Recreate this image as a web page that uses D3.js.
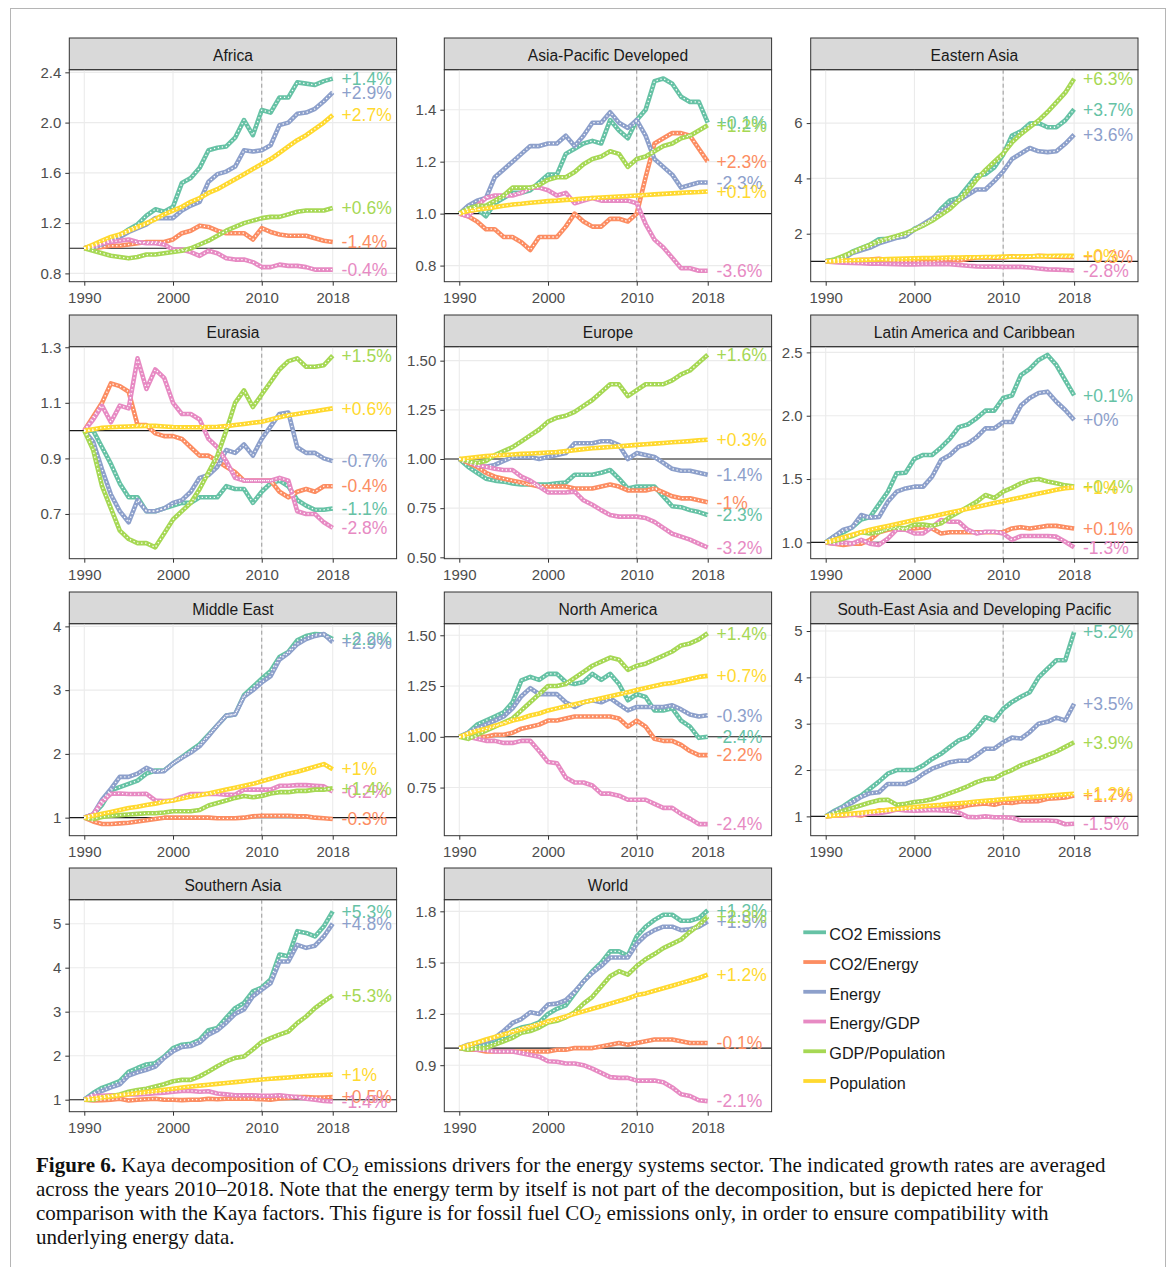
<!DOCTYPE html>
<html><head><meta charset="utf-8">
<script src="https://cdn.jsdelivr.net/npm/d3@7"></script>
<style>body{margin:0;background:#fff}</style>
</head><body><svg id="c" width="1171" height="1267"></svg>
<script>
// ---------------- DATA ----------------
const years = [1990,1991,1992,1993,1994,1995,1996,1997,1998,1999,2000,2001,2002,2003,2004,2005,2006,2007,2008,2009,2010,2011,2012,2013,2014,2015,2016,2017,2018];
const seriesNames = ["CO2 Emissions","CO2/Energy","Energy","Energy/GDP","GDP/Population","Population"];
const seriesColors = ["#66c2a5","#fc8d62","#8da0cb","#e78ac3","#a6d854","#ffd92f"];
const regionNames = ["Africa","Asia-Pacific Developed","Eastern Asia","Eurasia","Europe","Latin America and Caribbean","Middle East","North America","South-East Asia and Developing Pacific","Southern Asia","World"];
const xTicks = [1990,2000,2010,2018];

// series order in each region: CO2 Emissions, CO2/Energy, Energy, Energy/GDP, GDP/Population, Population
const africa = [
 [1.00,1.02,1.04,1.07,1.10,1.15,1.19,1.26,1.31,1.29,1.33,1.52,1.56,1.64,1.78,1.80,1.81,1.88,2.02,1.90,2.10,2.08,2.20,2.20,2.32,2.31,2.30,2.33,2.35],
 [1.00,1.00,1.01,1.02,1.02,1.03,1.04,1.05,1.05,1.05,1.07,1.12,1.14,1.18,1.17,1.14,1.12,1.12,1.12,1.07,1.16,1.13,1.11,1.10,1.10,1.10,1.08,1.06,1.05],
 [1.00,1.01,1.03,1.06,1.09,1.13,1.16,1.19,1.24,1.24,1.24,1.30,1.34,1.37,1.53,1.59,1.61,1.65,1.78,1.77,1.78,1.82,1.98,2.00,2.07,2.08,2.11,2.17,2.24],
 [1.00,1.02,1.04,1.05,1.06,1.07,1.05,1.04,1.04,1.03,0.99,0.99,0.97,0.94,0.98,0.96,0.92,0.91,0.91,0.89,0.85,0.85,0.87,0.86,0.86,0.85,0.83,0.83,0.83],
 [1.00,0.98,0.96,0.94,0.93,0.92,0.93,0.95,0.95,0.96,0.97,0.98,1.00,1.03,1.06,1.10,1.14,1.17,1.20,1.22,1.24,1.25,1.25,1.27,1.29,1.30,1.30,1.30,1.32],
 [1.00,1.03,1.06,1.09,1.11,1.14,1.17,1.20,1.23,1.27,1.30,1.33,1.37,1.40,1.44,1.47,1.51,1.55,1.59,1.63,1.67,1.71,1.76,1.81,1.86,1.90,1.95,2.00,2.06]
];
const asiaPacific = [
 [1.00,1.02,1.02,0.99,1.04,1.06,1.08,1.08,1.09,1.12,1.15,1.15,1.23,1.25,1.27,1.28,1.27,1.36,1.32,1.29,1.36,1.40,1.51,1.52,1.50,1.45,1.43,1.43,1.35],
 [1.00,0.99,0.97,0.94,0.94,0.91,0.91,0.89,0.86,0.91,0.91,0.91,0.95,1.00,0.97,0.95,0.95,0.98,0.98,0.97,1.00,1.14,1.27,1.29,1.31,1.31,1.30,1.25,1.20],
 [1.00,1.03,1.05,1.06,1.14,1.17,1.20,1.23,1.26,1.26,1.27,1.27,1.30,1.26,1.30,1.35,1.35,1.39,1.35,1.33,1.36,1.30,1.21,1.18,1.15,1.10,1.11,1.12,1.12],
 [1.00,0.99,1.03,1.06,1.07,1.07,1.07,1.08,1.10,1.10,1.09,1.07,1.08,1.04,1.05,1.06,1.05,1.05,1.05,1.05,1.04,0.96,0.90,0.87,0.83,0.79,0.79,0.78,0.78],
 [1.00,1.02,1.03,1.03,1.05,1.07,1.10,1.10,1.10,1.11,1.13,1.14,1.14,1.16,1.19,1.21,1.22,1.24,1.23,1.18,1.21,1.22,1.24,1.26,1.27,1.29,1.30,1.32,1.34],
 [1.00,1.01,1.015,1.02,1.025,1.03,1.035,1.038,1.042,1.045,1.048,1.05,1.053,1.055,1.058,1.06,1.062,1.064,1.066,1.068,1.07,1.072,1.074,1.076,1.078,1.08,1.082,1.083,1.085]
];
const easternAsia = [
 [1.00,1.06,1.12,1.35,1.48,1.60,1.80,1.82,1.86,1.92,2.18,2.30,2.50,2.90,3.20,3.30,3.70,4.10,4.15,4.40,4.86,5.55,5.70,5.98,6.00,5.85,5.85,6.10,6.50],
 [1.00,1.02,1.02,1.04,1.06,1.07,1.09,1.04,1.01,1.00,1.01,0.98,0.98,1.04,1.07,1.03,1.09,1.14,1.15,1.13,1.14,1.18,1.16,1.17,1.20,1.18,1.17,1.16,1.16],
 [1.00,1.04,1.10,1.30,1.40,1.50,1.65,1.75,1.85,1.92,2.15,2.35,2.55,2.80,3.00,3.20,3.40,3.60,3.60,3.90,4.25,4.70,4.90,5.10,4.98,4.95,4.98,5.25,5.58],
 [1.00,0.97,0.95,0.94,0.93,0.92,0.92,0.91,0.90,0.89,0.89,0.90,0.90,0.91,0.90,0.87,0.84,0.82,0.81,0.81,0.80,0.80,0.80,0.78,0.74,0.71,0.70,0.69,0.67],
 [1.00,1.07,1.20,1.33,1.47,1.60,1.72,1.83,1.92,2.02,2.15,2.30,2.47,2.68,2.90,3.20,3.55,3.95,4.30,4.60,4.90,5.30,5.60,5.85,6.10,6.40,6.75,7.10,7.60],
 [1.00,1.01,1.03,1.04,1.05,1.06,1.07,1.08,1.09,1.10,1.11,1.12,1.12,1.13,1.14,1.14,1.15,1.15,1.16,1.16,1.17,1.17,1.18,1.18,1.19,1.19,1.20,1.20,1.20]
];
const eurasia = [
 [1.00,1.00,0.94,0.88,0.81,0.76,0.76,0.71,0.71,0.72,0.73,0.74,0.74,0.76,0.76,0.76,0.80,0.79,0.79,0.74,0.78,0.81,0.82,0.80,0.75,0.73,0.715,0.715,0.72],
 [1.00,1.05,1.10,1.17,1.16,1.14,1.02,1.02,0.99,0.98,0.98,0.97,0.94,0.91,0.91,0.89,0.87,0.85,0.82,0.82,0.82,0.82,0.78,0.76,0.78,0.79,0.78,0.80,0.80],
 [1.00,0.96,0.86,0.77,0.71,0.67,0.75,0.71,0.71,0.72,0.74,0.75,0.78,0.83,0.84,0.87,0.93,0.92,0.95,0.91,0.97,1.015,1.06,1.065,0.94,0.92,0.92,0.90,0.89],
 [1.00,1.04,1.09,1.03,1.09,1.08,1.26,1.15,1.22,1.19,1.10,1.06,1.06,1.04,0.97,0.94,0.89,0.83,0.82,0.82,0.82,0.82,0.83,0.82,0.71,0.70,0.70,0.67,0.65],
 [1.00,0.93,0.80,0.72,0.64,0.61,0.595,0.595,0.58,0.63,0.68,0.71,0.74,0.79,0.85,0.91,1.00,1.10,1.145,1.085,1.13,1.175,1.22,1.25,1.26,1.23,1.23,1.235,1.27],
 [1.00,1.005,1.01,1.012,1.014,1.015,1.016,1.017,1.017,1.015,1.013,1.012,1.012,1.012,1.013,1.014,1.016,1.02,1.024,1.028,1.032,1.04,1.048,1.055,1.06,1.065,1.07,1.075,1.08]
];
const europe = [
 [1.00,0.96,0.93,0.90,0.89,0.885,0.876,0.87,0.87,0.87,0.87,0.877,0.88,0.92,0.92,0.92,0.93,0.944,0.90,0.85,0.86,0.86,0.86,0.81,0.76,0.755,0.74,0.73,0.715],
 [1.00,0.98,0.96,0.93,0.91,0.90,0.89,0.88,0.87,0.86,0.86,0.86,0.86,0.85,0.85,0.85,0.86,0.87,0.86,0.84,0.84,0.84,0.85,0.83,0.81,0.80,0.80,0.79,0.78],
 [1.00,0.99,0.97,0.96,0.97,0.99,1.01,1.01,1.01,1.00,1.01,1.02,1.03,1.08,1.08,1.08,1.09,1.09,1.07,1.00,1.03,1.02,1.01,0.98,0.95,0.94,0.94,0.93,0.92],
 [1.00,0.99,0.97,0.96,0.95,0.944,0.944,0.91,0.89,0.86,0.83,0.83,0.83,0.834,0.79,0.767,0.74,0.715,0.707,0.707,0.707,0.70,0.68,0.65,0.62,0.605,0.59,0.57,0.55],
 [1.00,0.99,0.98,0.99,1.02,1.04,1.06,1.09,1.12,1.15,1.19,1.21,1.22,1.24,1.27,1.30,1.34,1.38,1.38,1.32,1.35,1.38,1.38,1.38,1.40,1.43,1.45,1.49,1.53],
 [1.00,1.005,1.01,1.015,1.018,1.02,1.023,1.026,1.028,1.03,1.033,1.035,1.04,1.045,1.05,1.055,1.058,1.061,1.064,1.068,1.072,1.075,1.078,1.081,1.085,1.088,1.091,1.095,1.098]
];
const latinAmerica = [
 [1.00,1.05,1.08,1.12,1.18,1.20,1.30,1.40,1.545,1.55,1.66,1.69,1.69,1.75,1.82,1.91,1.93,1.98,2.04,2.04,2.14,2.16,2.32,2.37,2.44,2.48,2.40,2.28,2.16],
 [1.00,0.99,0.98,0.99,0.99,1.02,1.08,1.10,1.11,1.11,1.11,1.12,1.11,1.07,1.08,1.08,1.08,1.08,1.08,1.08,1.08,1.11,1.12,1.11,1.12,1.13,1.13,1.12,1.11],
 [1.00,1.05,1.10,1.12,1.216,1.195,1.20,1.32,1.40,1.426,1.44,1.44,1.52,1.65,1.69,1.755,1.78,1.83,1.90,1.90,1.95,1.95,2.08,2.14,2.18,2.19,2.11,2.045,1.966],
 [1.00,0.99,1.00,0.99,1.02,0.99,0.98,1.03,1.10,1.10,1.07,1.07,1.12,1.176,1.163,1.163,1.10,1.07,1.084,1.084,1.07,1.02,1.05,1.05,1.05,1.05,1.045,1.005,0.96],
 [1.00,1.01,1.03,1.05,1.08,1.07,1.08,1.11,1.12,1.11,1.14,1.14,1.13,1.15,1.20,1.24,1.28,1.32,1.374,1.35,1.40,1.43,1.466,1.49,1.50,1.48,1.466,1.45,1.44],
 [1.00,1.02,1.04,1.06,1.08,1.10,1.115,1.13,1.145,1.16,1.176,1.19,1.205,1.22,1.235,1.25,1.265,1.28,1.295,1.31,1.325,1.34,1.355,1.37,1.385,1.40,1.415,1.427,1.434]
];
const middleEast = [
 [1.00,1.05,1.20,1.43,1.48,1.53,1.58,1.69,1.74,1.74,1.85,1.95,2.05,2.15,2.30,2.45,2.60,2.62,2.92,3.05,3.18,3.30,3.52,3.60,3.78,3.85,3.88,3.87,3.80],
 [1.00,0.94,0.90,0.90,0.91,0.92,0.94,0.96,0.98,1.00,1.00,1.00,1.00,1.00,1.00,0.99,0.99,0.99,1.00,1.02,1.03,1.03,1.03,1.03,1.02,1.02,1.00,0.99,0.98],
 [1.00,1.05,1.28,1.45,1.64,1.64,1.69,1.78,1.72,1.73,1.85,1.94,2.02,2.12,2.28,2.45,2.60,2.62,2.90,3.00,3.12,3.22,3.48,3.58,3.72,3.80,3.85,3.88,3.75],
 [1.00,1.05,1.25,1.375,1.38,1.37,1.37,1.375,1.27,1.26,1.27,1.33,1.37,1.37,1.37,1.37,1.36,1.36,1.44,1.44,1.44,1.44,1.50,1.50,1.51,1.51,1.50,1.49,1.41],
 [1.00,0.98,1.01,1.03,1.04,1.05,1.06,1.07,1.07,1.08,1.10,1.10,1.10,1.12,1.19,1.23,1.27,1.31,1.34,1.32,1.34,1.38,1.40,1.40,1.42,1.42,1.44,1.44,1.46],
 [1.00,1.03,1.06,1.09,1.12,1.15,1.17,1.20,1.22,1.25,1.27,1.30,1.33,1.35,1.38,1.41,1.44,1.47,1.50,1.53,1.57,1.61,1.65,1.69,1.72,1.76,1.80,1.84,1.76]
];
const northAmerica = [
 [1.00,1.02,1.06,1.08,1.10,1.12,1.17,1.278,1.295,1.28,1.31,1.31,1.27,1.26,1.27,1.31,1.28,1.31,1.26,1.18,1.21,1.196,1.13,1.13,1.14,1.08,1.05,0.995,1.00],
 [1.00,1.00,1.00,1.00,1.01,1.01,1.02,1.04,1.05,1.06,1.08,1.08,1.09,1.10,1.10,1.10,1.10,1.10,1.09,1.05,1.08,1.05,0.99,0.98,0.98,0.96,0.93,0.91,0.91],
 [1.00,1.02,1.04,1.06,1.08,1.10,1.14,1.20,1.24,1.21,1.21,1.21,1.17,1.147,1.17,1.18,1.17,1.19,1.16,1.13,1.147,1.147,1.147,1.147,1.155,1.135,1.11,1.10,1.106],
 [1.00,1.00,0.99,0.98,0.98,0.97,0.97,0.98,0.98,0.93,0.876,0.87,0.80,0.775,0.775,0.76,0.72,0.72,0.71,0.69,0.69,0.69,0.67,0.65,0.65,0.62,0.597,0.57,0.57],
 [1.00,0.99,1.01,1.03,1.05,1.07,1.09,1.13,1.17,1.21,1.25,1.25,1.26,1.29,1.32,1.35,1.37,1.39,1.38,1.33,1.35,1.36,1.38,1.40,1.42,1.45,1.46,1.48,1.51],
 [1.00,1.015,1.03,1.04,1.055,1.065,1.08,1.09,1.105,1.115,1.13,1.14,1.15,1.16,1.17,1.18,1.19,1.20,1.21,1.22,1.23,1.24,1.25,1.26,1.265,1.275,1.285,1.295,1.30]
];
const southEastAsia = [
 [1.00,1.12,1.22,1.35,1.45,1.60,1.75,1.92,2.00,2.00,2.00,2.10,2.24,2.35,2.50,2.64,2.71,2.90,3.14,3.07,3.32,3.47,3.58,3.68,4.00,4.19,4.37,4.37,4.98],
 [1.00,1.02,1.02,1.04,1.02,1.07,1.13,1.13,1.16,1.18,1.14,1.15,1.15,1.15,1.18,1.19,1.24,1.26,1.28,1.25,1.30,1.29,1.32,1.32,1.33,1.38,1.39,1.41,1.45],
 [1.00,1.10,1.20,1.30,1.42,1.50,1.52,1.70,1.70,1.70,1.78,1.92,2.03,2.10,2.17,2.20,2.20,2.32,2.46,2.46,2.60,2.70,2.68,2.82,3.00,3.04,3.13,3.07,3.43],
 [1.00,1.02,1.03,1.03,1.05,1.06,1.07,1.10,1.15,1.13,1.12,1.13,1.14,1.13,1.12,1.08,0.99,0.98,1.00,0.98,0.98,0.97,0.91,0.91,0.91,0.91,0.90,0.83,0.84],
 [1.00,1.06,1.12,1.18,1.24,1.30,1.35,1.36,1.25,1.27,1.31,1.33,1.37,1.43,1.50,1.57,1.65,1.74,1.80,1.82,1.92,2.00,2.10,2.17,2.24,2.32,2.40,2.50,2.60],
 [1.00,1.02,1.04,1.06,1.08,1.10,1.12,1.14,1.16,1.18,1.20,1.22,1.235,1.25,1.27,1.285,1.30,1.32,1.335,1.35,1.37,1.385,1.40,1.415,1.43,1.445,1.46,1.475,1.49]
];
const southernAsia = [
 [1.00,1.15,1.27,1.34,1.42,1.63,1.72,1.80,1.83,1.98,2.17,2.25,2.27,2.36,2.58,2.63,2.86,3.08,3.20,3.46,3.55,3.73,4.30,4.26,4.83,4.79,4.71,4.94,5.28],
 [1.00,0.98,0.99,1.00,1.02,0.98,1.00,1.01,1.02,1.00,1.00,0.99,1.00,1.00,1.02,1.01,1.02,1.02,1.02,1.02,1.01,1.00,1.03,1.04,1.06,1.06,1.05,1.05,1.06],
 [1.00,1.12,1.20,1.28,1.35,1.55,1.62,1.68,1.75,1.95,2.10,2.20,2.22,2.30,2.48,2.58,2.75,2.95,3.05,3.35,3.50,3.65,4.14,4.14,4.52,4.45,4.50,4.71,5.00],
 [1.00,1.08,1.09,1.10,1.10,1.12,1.12,1.13,1.15,1.16,1.18,1.20,1.20,1.18,1.19,1.14,1.12,1.10,1.10,1.10,1.09,1.09,1.10,1.08,1.06,1.02,1.00,0.97,0.96],
 [1.00,1.00,1.05,1.08,1.12,1.18,1.22,1.25,1.30,1.35,1.42,1.45,1.45,1.53,1.64,1.76,1.87,1.95,1.98,2.14,2.31,2.40,2.48,2.55,2.74,2.89,3.08,3.23,3.37],
 [1.00,1.025,1.05,1.075,1.10,1.125,1.15,1.175,1.20,1.225,1.25,1.275,1.30,1.32,1.34,1.36,1.38,1.40,1.42,1.44,1.46,1.475,1.49,1.505,1.52,1.535,1.55,1.56,1.57]
];
const world = [
 [1.00,1.01,1.01,1.02,1.03,1.06,1.10,1.12,1.13,1.15,1.20,1.23,1.25,1.32,1.39,1.45,1.50,1.566,1.566,1.54,1.654,1.71,1.75,1.78,1.78,1.745,1.745,1.76,1.806],
 [1.00,0.99,0.99,0.98,0.98,0.98,0.98,0.98,0.98,0.98,0.98,0.99,0.99,1.00,1.00,1.00,1.01,1.02,1.03,1.02,1.03,1.04,1.05,1.05,1.05,1.04,1.03,1.03,1.03],
 [1.00,1.02,1.03,1.04,1.06,1.10,1.147,1.17,1.21,1.20,1.255,1.26,1.28,1.33,1.39,1.44,1.48,1.53,1.53,1.53,1.61,1.66,1.69,1.71,1.71,1.69,1.695,1.71,1.74],
 [1.00,1.00,0.99,0.99,0.98,0.98,0.98,0.97,0.96,0.95,0.923,0.92,0.91,0.91,0.90,0.88,0.855,0.83,0.826,0.826,0.81,0.81,0.81,0.80,0.77,0.73,0.72,0.695,0.69],
 [1.00,0.99,1.00,1.00,1.02,1.04,1.06,1.09,1.10,1.12,1.15,1.16,1.18,1.21,1.26,1.30,1.36,1.42,1.45,1.43,1.48,1.52,1.55,1.585,1.61,1.635,1.68,1.72,1.77],
 [1.00,1.017,1.033,1.05,1.065,1.08,1.095,1.11,1.125,1.14,1.157,1.17,1.185,1.20,1.215,1.23,1.245,1.26,1.275,1.29,1.31,1.32,1.335,1.35,1.365,1.38,1.395,1.41,1.43]
];

// growth-rate labels (2010-2018), series order as above
const africaLabels        = ["+1.4%","-1.4%","+2.9%","-0.4%","+0.6%","+2.7%"];
const asiaPacificLabels   = ["+0.1%","+2.3%","-2.3%","-3.6%","+1.2%","+0.1%"];
const easternAsiaLabels   = ["+3.7%","+0.3%","+3.6%","-2.8%","+6.3%","+0%"];
const eurasiaLabels       = ["-1.1%","-0.4%","-0.7%","-2.8%","+1.5%","+0.6%"];
const europeLabels        = ["-2.3%","-1%","-1.4%","-3.2%","+1.6%","+0.3%"];
const latinAmericaLabels  = ["+0.1%","+0.1%","+0%","-1.3%","+0.4%","+1%"];
const middleEastLabels    = ["+2.2%","-0.3%","+2.9%","-0.2%","+1.4%","+1%"];
const northAmericaLabels  = ["-2.4%","-2.2%","-0.3%","-2.4%","+1.4%","+0.7%"];
const southEastAsiaLabels = ["+5.2%","+1.7%","+3.5%","-1.5%","+3.9%","+1.2%"];
const southernAsiaLabels  = ["+5.3%","+0.5%","+4.8%","-1.4%","+5.3%","+1%"];
const worldLabels         = ["+1.3%","-0.1%","+1.5%","-2.1%","+2.3%","+1.2%"];

// y tick labels per panel
const africaTicks        = ["0.8","1.2","1.6","2.0","2.4"];
const asiaPacificTicks   = ["0.8","1.0","1.2","1.4"];
const easternAsiaTicks   = ["2","4","6"];
const eurasiaTicks       = ["0.7","0.9","1.1","1.3"];
const europeTicks        = ["0.50","0.75","1.00","1.25","1.50"];
const latinAmericaTicks  = ["1.0","1.5","2.0","2.5"];
const middleEastTicks    = ["1","2","3","4"];
const northAmericaTicks  = ["0.75","1.00","1.25","1.50"];
const southEastAsiaTicks = ["1","2","3","4","5"];
const southernAsiaTicks  = ["1","2","3","4","5"];
const worldTicks         = ["0.9","1.2","1.5","1.8"];

// y axis extents
const yExtents = [[0.734,2.421],[0.738,1.554],[0.265,7.93],[0.539,1.302],[0.493,1.571],[0.871,2.545],[0.717,4.042],[0.513,1.557],[0.583,5.158],[0.727,5.545],[0.628,1.868]];

const regionData   = [africa,asiaPacific,easternAsia,eurasia,europe,latinAmerica,middleEast,northAmerica,southEastAsia,southernAsia,world];
const regionLabels = [africaLabels,asiaPacificLabels,easternAsiaLabels,eurasiaLabels,europeLabels,latinAmericaLabels,middleEastLabels,northAmericaLabels,southEastAsiaLabels,southernAsiaLabels,worldLabels];
const regionTicks  = [africaTicks,asiaPacificTicks,easternAsiaTicks,eurasiaTicks,europeTicks,latinAmericaTicks,middleEastTicks,northAmericaTicks,southEastAsiaTicks,southernAsiaTicks,worldTicks];

// ---------------- DRAW ----------------
const svg = d3.select("#c");
const FONT = "'Liberation Sans', Arial, sans-serif";
svg.append("rect").attr("x",10.5).attr("y",8.5).attr("width",1155).attr("height",1300)
   .attr("fill","#fff").attr("stroke","#b5b5b5").attr("stroke-width",1);

const colLeft = [69.3, 444.3, 810.7], panelW = 327.3;
const rowTop = [69.7, 346.7, 623.7, 899.7], panelH = 212, stripH = 31.7;

regionNames.forEach((name, i) => {
  const col = i % 3, row = Math.floor(i / 3);
  const L = colLeft[col], T = rowTop[row];
  const x = d3.scaleLinear().domain([1988.31, 2025.2]).range([L, L + panelW]);
  const y = d3.scaleLinear().domain(yExtents[i]).range([T + panelH, T]);
  const g = svg.append("g");
  const tickVals = regionTicks[i].map(Number);

  // strip
  g.append("rect").attr("x", L).attr("y", T - stripH).attr("width", panelW).attr("height", stripH)
    .attr("fill", "#d9d9d9").attr("stroke", "#333").attr("stroke-width", 1);
  g.append("text").attr("x", L + panelW / 2).attr("y", T - stripH / 2 + 1.5).attr("dy", "0.36em")
    .attr("text-anchor", "middle").attr("font-family", FONT).attr("font-size", 15.6)
    .attr("fill", "#1a1a1a").text(name);

  // grid
  g.selectAll(".gy").data(tickVals).join("line")
    .attr("x1", L).attr("x2", L + panelW).attr("y1", d => y(d)).attr("y2", d => y(d))
    .attr("stroke", "#ebebeb").attr("stroke-width", 1.1);
  g.selectAll(".gx").data(xTicks).join("line")
    .attr("x1", d => x(d)).attr("x2", d => x(d)).attr("y1", T).attr("y2", T + panelH)
    .attr("stroke", "#ebebeb").attr("stroke-width", 1.1);

  // reference lines
  g.append("line").attr("x1", L).attr("x2", L + panelW).attr("y1", y(1)).attr("y2", y(1))
    .attr("stroke", "#1a1a1a").attr("stroke-width", 1.1);
  g.append("line").attr("x1", x(2010)).attr("x2", x(2010)).attr("y1", T).attr("y2", T + panelH)
    .attr("stroke", "#999").attr("stroke-width", 1).attr("stroke-dasharray", "4,3");

  // series
  const line = d3.line().x((d, j) => x(years[j])).y(d => y(d));
  const data = regionData[i];
  g.selectAll(".s").data(data).join("path")
    .attr("d", line).attr("fill", "none").attr("stroke", (d, k) => seriesColors[k])
    .attr("stroke-width", 4.6).attr("stroke-linejoin", "round");
  g.selectAll(".w").data(data).join("path")
    .attr("d", line).attr("fill", "none").attr("stroke", "#fff")
    .attr("stroke-width", 1.3).attr("stroke-dasharray", "1.3,2.7").attr("stroke-linejoin", "round");

  // labels
  g.selectAll(".lab").data(data).join("text")
    .attr("x", x(2019)).attr("y", d => y(d[d.length - 1])).attr("dy", "0.36em")
    .attr("font-family", FONT).attr("font-size", 17.5)
    .attr("fill", (d, k) => seriesColors[k]).text((d, k) => regionLabels[i][k]);

  // panel border
  g.append("rect").attr("x", L).attr("y", T).attr("width", panelW).attr("height", panelH)
    .attr("fill", "none").attr("stroke", "#333").attr("stroke-width", 1);

  // axes
  const ax = g.append("g").attr("transform", `translate(0,${T + panelH})`)
    .call(d3.axisBottom(x).tickValues(xTicks).tickFormat(d3.format("d")).tickSize(4).tickPadding(7));
  const ay = g.append("g").attr("transform", `translate(${L},0)`)
    .call(d3.axisLeft(y).tickValues(tickVals).tickFormat((d, j) => regionTicks[i][j]).tickSize(4).tickPadding(4));
  [ax, ay].forEach(a => {
    a.select(".domain").remove();
    a.selectAll("line").attr("stroke", "#333");
    a.selectAll("text").attr("font-family", FONT).attr("font-size", 15).attr("fill", "#4d4d4d");
  });
});

// legend
const lg = svg.append("g");
seriesNames.forEach((s, k) => {
  const cy = 932.3 + k * 29.74;
  lg.append("line").attr("x1", 803.3).attr("x2", 826).attr("y1", cy).attr("y2", cy)
    .attr("stroke", seriesColors[k]).attr("stroke-width", 3.8);
  lg.append("text").attr("x", 829.3).attr("y", cy + 2).attr("dy", "0.36em")
    .attr("font-family", FONT).attr("font-size", 16.2).attr("fill", "#1a1a1a").text(s);
});

// caption
const cap = svg.append("g").attr("font-family", "'Liberation Serif', 'Times New Roman', serif")
  .attr("font-size", 21).attr("fill", "#111");
const capLines = [
  [["b","Figure 6."],["t"," Kaya decomposition of CO"],["s","2"],["t"," emissions drivers for the energy systems sector. The indicated growth rates are averaged"]],
  [["t","across the years 2010–2018. Note that the energy term by itself is not part of the decomposition, but is depicted here for"]],
  [["t","comparison with the Kaya factors. This figure is for fossil fuel CO"],["s","2"],["t"," emissions only, in order to ensure compatibility with"]],
  [["t","underlying energy data."]]
];
capLines.forEach((parts, li) => {
  const t = cap.append("text").attr("x", 36).attr("y", 1172 + li * 24);
  parts.forEach(([kind, str], j) => {
    const sp = t.append("tspan").text(str);
    if (kind === "b") sp.attr("font-weight", "bold");
    if (kind === "s") sp.attr("font-size", 14).attr("dy", 4);
    if (j > 0 && parts[j - 1][0] === "s") sp.attr("dy", -4);
  });
});
</script>
</body></html>
